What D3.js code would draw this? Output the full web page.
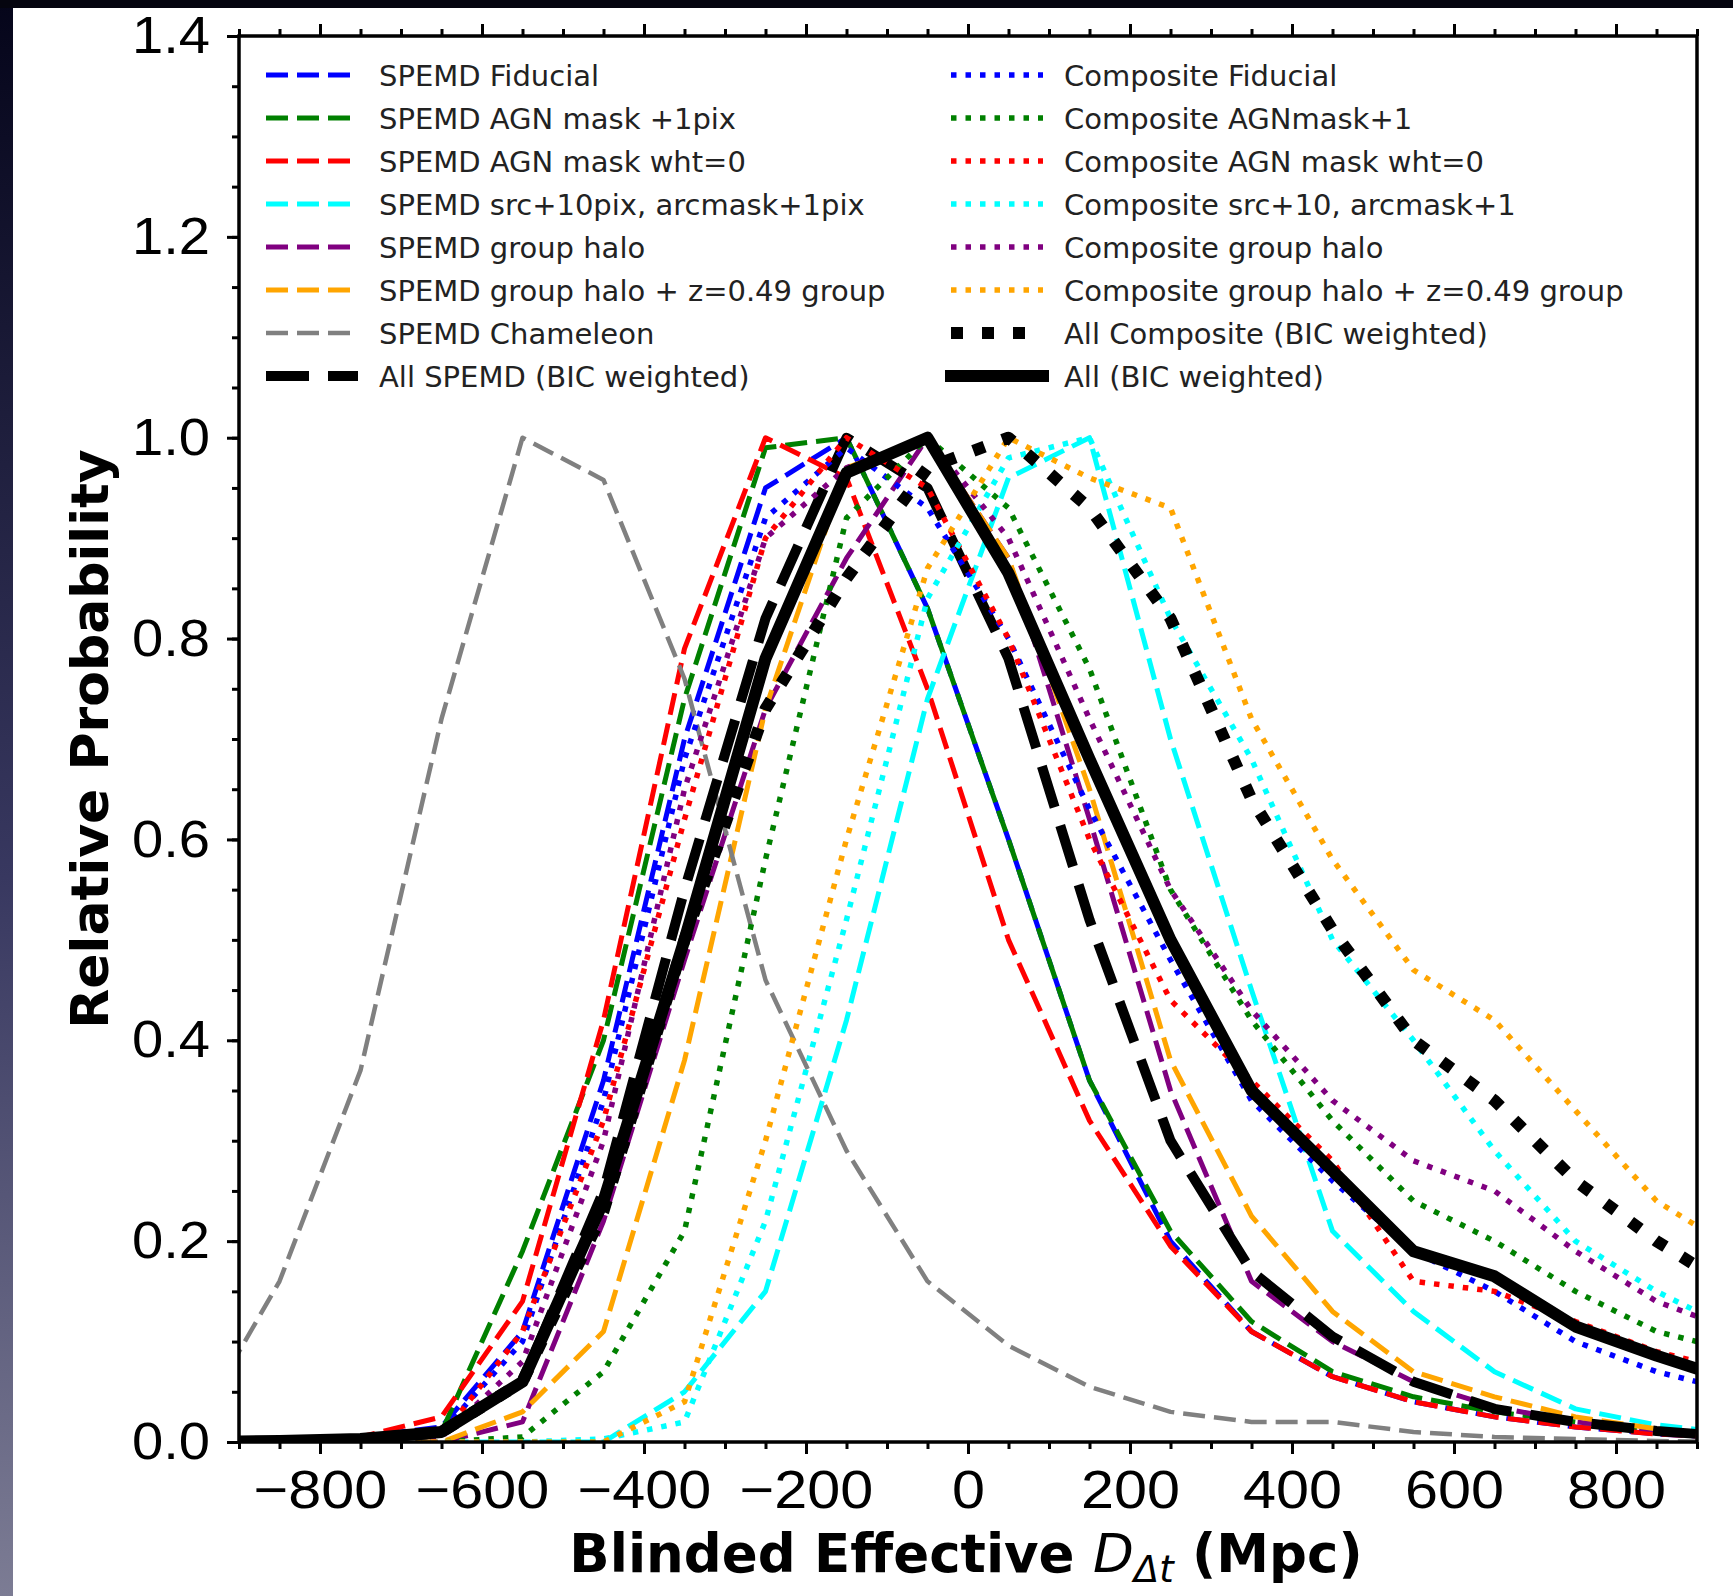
<!DOCTYPE html>
<html>
<head>
<meta charset="utf-8">
<script src="https://cdn.jsdelivr.net/npm/d3@7"></script>
<style>
  body { margin: 0; background: #fff; }
  svg { display: block; font-family: "DejaVu Sans", sans-serif; }
</style>
</head>
<body>
<div id="viz"></div>
<script>

// bin centres (Mpc)
var bins = [-950, -850, -750, -650, -550, -450, -350, -250, -150, -50, 50, 150, 250, 350, 450, 550, 650, 750, 850, 950];

// SPEMD models
var spemdFiducial   = [0, 0, 0.005, 0.015, 0.11, 0.36, 0.70, 0.95, 1.00, 0.83, 0.60, 0.36, 0.20, 0.11, 0.065, 0.04, 0.025, 0.015, 0.008, 0.004];
var spemdAgn1       = [0, 0, 0.005, 0.01, 0.19, 0.40, 0.74, 0.99, 1.00, 0.83, 0.60, 0.36, 0.21, 0.12, 0.07, 0.045, 0.03, 0.02, 0.012, 0.006];
var spemdAgnWht0    = [0, 0, 0.005, 0.025, 0.14, 0.42, 0.79, 1.00, 0.96, 0.75, 0.50, 0.32, 0.195, 0.11, 0.065, 0.04, 0.025, 0.015, 0.008, 0.004];
var spemdSrc10      = [0, 0, 0, 0, 0, 0, 0.05, 0.15, 0.42, 0.74, 0.96, 1.00, 0.70, 0.45, 0.21, 0.13, 0.07, 0.033, 0.017, 0.008];
var spemdGroup      = [0, 0, 0, 0, 0.02, 0.22, 0.48, 0.73, 0.88, 1.00, 0.88, 0.62, 0.35, 0.16, 0.10, 0.06, 0.035, 0.02, 0.012, 0.006];
var spemdGroupZ     = [0, 0, 0, 0, 0.03, 0.11, 0.38, 0.73, 0.97, 1.00, 0.88, 0.65, 0.38, 0.225, 0.13, 0.07, 0.045, 0.025, 0.013, 0.006];
var spemdChameleon  = [0.02, 0.16, 0.37, 0.72, 1.00, 0.958, 0.76, 0.46, 0.29, 0.16, 0.096, 0.055, 0.03, 0.02, 0.02, 0.01, 0.005, 0.003, 0.001, 0];
var allSpemd        = [0, 0, 0.002, 0.01, 0.06, 0.25, 0.55, 0.82, 1.00, 0.95, 0.78, 0.52, 0.30, 0.17, 0.105, 0.06, 0.033, 0.02, 0.011, 0.005];

// Composite models
var compFiducial    = [0, 0, 0.003, 0.01, 0.10, 0.34, 0.68, 0.92, 0.99, 0.93, 0.80, 0.63, 0.48, 0.34, 0.26, 0.19, 0.15, 0.10, 0.07, 0.05];
var compAgn1        = [0, 0, 0, 0, 0.005, 0.07, 0.21, 0.58, 0.92, 1.00, 0.93, 0.77, 0.55, 0.42, 0.32, 0.24, 0.20, 0.15, 0.11, 0.09];
var compAgnWht0     = [0, 0, 0.002, 0.005, 0.11, 0.32, 0.62, 0.90, 1.00, 0.95, 0.80, 0.60, 0.44, 0.36, 0.28, 0.16, 0.15, 0.12, 0.09, 0.07];
var compSrc10       = [0, 0, 0, 0, 0, 0.003, 0.02, 0.22, 0.52, 0.84, 0.98, 1.00, 0.82, 0.68, 0.50, 0.40, 0.29, 0.20, 0.15, 0.11];
var compGroup       = [0, 0, 0, 0.005, 0.08, 0.30, 0.65, 0.90, 0.97, 1.00, 0.90, 0.72, 0.55, 0.43, 0.34, 0.28, 0.25, 0.19, 0.14, 0.11];
var compGroupZ      = [0, 0, 0, 0, 0, 0, 0.04, 0.30, 0.60, 0.87, 1.00, 0.96, 0.93, 0.72, 0.58, 0.47, 0.42, 0.33, 0.24, 0.19];
var allComposite    = [0, 0, 0.002, 0.01, 0.06, 0.23, 0.50, 0.73, 0.86, 0.97, 1.00, 0.93, 0.82, 0.64, 0.51, 0.40, 0.34, 0.26, 0.20, 0.15];
var allModels       = [0, 0.001, 0.003, 0.01, 0.06, 0.24, 0.50, 0.78, 0.965, 1.00, 0.865, 0.68, 0.50, 0.35, 0.27, 0.19, 0.165, 0.115, 0.086, 0.06];

var labels = [
  "SPEMD Fiducial", "SPEMD AGN mask +1pix", "SPEMD AGN mask wht=0", "SPEMD src+10pix, arcmask+1pix",
  "SPEMD group halo", "SPEMD group halo + z=0.49 group", "SPEMD Chameleon", "All SPEMD (BIC weighted)",
  "Composite Fiducial", "Composite AGNmask+1", "Composite AGN mask wht=0", "Composite src+10, arcmask+1",
  "Composite group halo", "Composite group halo + z=0.49 group", "All Composite (BIC weighted)", "All (BIC weighted)"
];
var colors = ["blue", "green", "red", "cyan", "purple", "orange", "grey", "black",
              "blue", "green", "red", "cyan", "purple", "orange", "black", "black"];
var styles = ["dash", "dash", "dash", "dash", "dash", "dash", "dash", "bigdash",
              "dot", "dot", "dot", "dot", "dot", "dot", "bigdot", "solid"];
var values = [spemdFiducial, spemdAgn1, spemdAgnWht0, spemdSrc10, spemdGroup, spemdGroupZ, spemdChameleon, allSpemd,
              compFiducial, compAgn1, compAgnWht0, compSrc10, compGroup, compGroupZ, allComposite, allModels];

var xTicks = [-800, -600, -400, -200, 0, 200, 400, 600, 800];
var yTicks = [0.0, 0.2, 0.4, 0.6, 0.8, 1.0, 1.2, 1.4];

var lineStyle = {
  dash:    {w: 5,   dash: "22,9"},
  bigdash: {w: 10,  dash: "43,19"},
  dot:     {w: 5.5, dash: "5.5,9"},
  bigdot:  {w: 12,  dash: "12,19"},
  solid:   {w: 12,  dash: null}
};

var W = 1733, H = 1596;
var margin = {top: 36, right: 36, bottom: 154, left: 239};
var width = W - margin.left - margin.right,
    height = H - margin.top - margin.bottom;

var svg = d3.select("#viz").append("svg").attr("width", W).attr("height", H);

// dark frame strips of the screenshot
var grad = svg.append("defs").append("linearGradient")
    .attr("id", "edge").attr("x1", 0).attr("y1", 0).attr("x2", 0).attr("y2", 1);
grad.append("stop").attr("offset", "0%").attr("stop-color", "#05051a");
grad.append("stop").attr("offset", "55%").attr("stop-color", "#383860");
grad.append("stop").attr("offset", "100%").attr("stop-color", "#7c7c94");
svg.append("rect").attr("x", 0).attr("y", 0).attr("width", 13).attr("height", H).style("fill", "url(#edge)");
svg.append("rect").attr("x", 0).attr("y", 0).attr("width", W).attr("height", 8).style("fill", "#05050f");

svg.select("defs").append("clipPath").attr("id", "plotclip")
  .append("rect").attr("width", width).attr("height", height);

var g = svg.append("g")
    .attr("transform", "translate(" + margin.left + "," + margin.top + ")");

var x = d3.scaleLinear().domain([-900, 900]).range([0, width]);
var y = d3.scaleLinear().domain([0, 1.4]).range([height, 0]);

// curves
var line = d3.line()
    .x(function(d, i) { return x(bins[i]); })
    .y(function(d) { return y(d); });

var curves = g.append("g").attr("clip-path", "url(#plotclip)");
values.forEach(function(v, i){
  var s = lineStyle[styles[i]];
  var w = s.w;
  if (colors[i] == "grey") w = 4.5;
  curves.append("path")
      .attr("d", line(v))
      .style("fill", "none")
      .style("stroke", colors[i])
      .style("stroke-width", w)
      .style("stroke-linejoin", "round")
      .style("stroke-linecap", styles[i] == "solid" ? "square" : "butt")
      .style("stroke-dasharray", s.dash);
});

// axes
var xMinor = d3.range(-900, 901, 50);
var yMinor = d3.range(0, 1.401, 0.05);

function tickStyle(sel){
  sel.select(".domain").remove();
  sel.selectAll("line").style("stroke", "#000").style("stroke-width", 3);
}

g.append("g").attr("transform", "translate(0," + height + ")")
    .call(d3.axisBottom(x).tickValues(xMinor).tickSize(7).tickFormat(""))
    .call(tickStyle);
g.append("g").attr("transform", "translate(0," + height + ")")
    .call(d3.axisBottom(x).tickValues(xTicks).tickSize(12).tickPadding(16)
      .tickFormat(function(d){ return d < 0 ? "\u2212" + Math.abs(d) : d; }))
    .call(tickStyle)
    .selectAll("text")
      .style("font-size", "53px").style("fill", "#000")
      .attr("transform", "scale(1.12,1)");

g.append("g")
    .call(d3.axisTop(x).tickValues(xMinor).tickSize(7).tickFormat(""))
    .call(tickStyle);
g.append("g")
    .call(d3.axisTop(x).tickValues(xTicks).tickSize(12).tickFormat(""))
    .call(tickStyle);

g.append("g")
    .call(d3.axisLeft(y).tickValues(yMinor).tickSize(7).tickFormat(""))
    .call(tickStyle);
g.append("g")
    .call(d3.axisLeft(y).tickValues(yTicks).tickSize(12).tickPadding(17).tickFormat(d3.format(".1f")))
    .call(tickStyle)
    .selectAll("text")
      .style("font-size", "52px").style("fill", "#000")
      .attr("x", 0)
      .attr("transform", "translate(-29,0) scale(1.08,1)");

// frame
g.append("rect")
    .attr("width", width).attr("height", height)
    .style("fill", "none").style("stroke", "#000").style("stroke-width", 3.5);

// axis titles
var xt = svg.append("text")
    .attr("x", margin.left + width / 2 - 2)
    .attr("y", 1572)
    .style("text-anchor", "middle")
    .style("font-size", "53px")
    .style("font-weight", "bold");
xt.append("tspan").text("Blinded Effective ");
xt.append("tspan").text("D").style("font-style", "italic").style("font-weight", "normal");
xt.append("tspan").text("\u0394t").style("font-style", "italic").style("font-weight", "normal")
    .style("font-size", "37px").attr("dy", 10);
xt.append("tspan").text(" (Mpc)").attr("dy", -10);

svg.append("text")
    .attr("transform", "translate(108," + (margin.top + height / 2) + ") rotate(-90)")
    .style("text-anchor", "middle")
    .style("font-size", "52px")
    .style("font-weight", "bold")
    .text("Relative Probability");

// legend
var legend = g.append("g").attr("class", "legend");
var colX = [27, 712], rowY0 = 39, rowH = 43, handleLen = 92;
labels.forEach(function(lab, i){
  var c = Math.floor(i / 8), r = i % 8;
  var s = lineStyle[styles[i]];
  var lx = colX[c], ly = rowY0 + r * rowH;
  legend.append("line")
      .attr("x1", lx).attr("x2", lx + handleLen)
      .attr("y1", ly).attr("y2", ly)
      .style("stroke", colors[i])
      .style("stroke-width", colors[i] == "grey" ? 4.5 : s.w)
      .style("stroke-linecap", styles[i] == "solid" ? "square" : "butt")
      .style("stroke-dasharray", s.dash);
  legend.append("text")
      .attr("x", lx + 113).attr("y", ly + 11)
      .style("font-size", "29px")
      .style("fill", "#222")
      .text(lab);
});

</script>
</body>
</html>
